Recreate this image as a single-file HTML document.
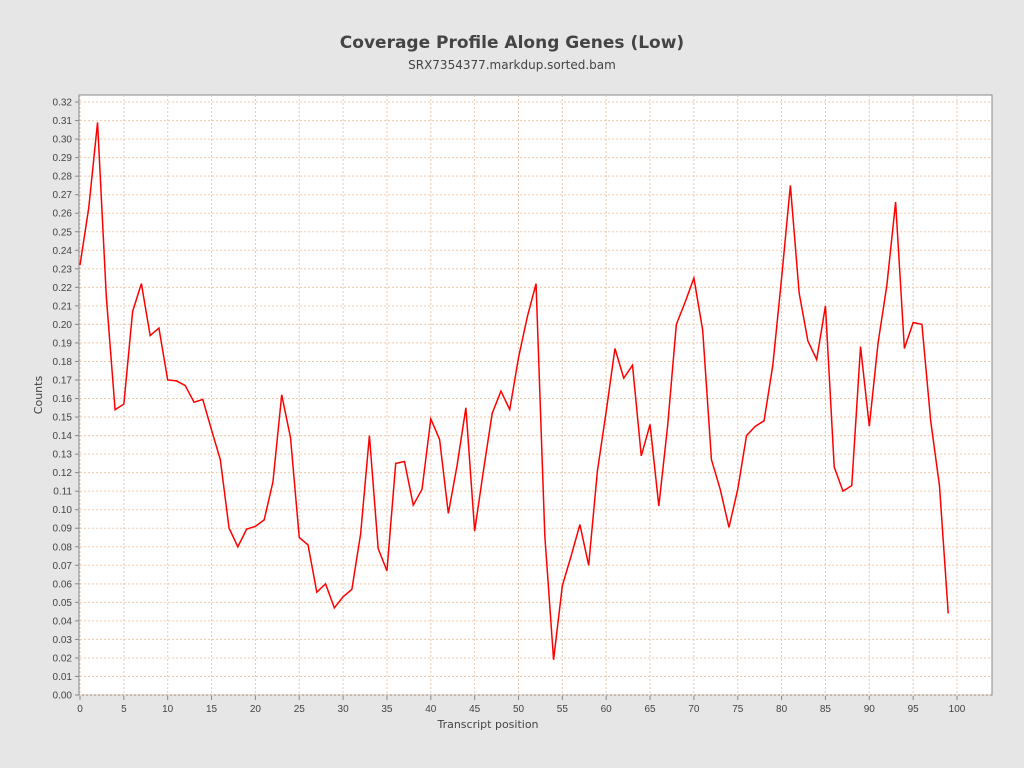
<!DOCTYPE html>
<html><head><meta charset="utf-8"><style>
body{margin:0;background:#e6e6e6;font-family:"Liberation Sans","DejaVu Sans",sans-serif}
svg{display:block}
</style></head><body>
<svg id="c" width="1024" height="768" xmlns="http://www.w3.org/2000/svg">
<rect width="1024" height="768" fill="#e6e6e6"/>
<text x="512" y="48" text-anchor="middle" font-size="17" font-weight="bold" fill="#444" font-family="DejaVu Sans, sans-serif">Coverage Profile Along Genes (Low)</text>
<text x="512" y="69" text-anchor="middle" font-size="12" fill="#444" font-family="DejaVu Sans, sans-serif">SRX7354377.markdup.sorted.bam</text>
<rect x="79" y="95" width="913" height="600" fill="#fff" stroke="#888"/>
<g id="grid"></g><g id="axes"></g>
<text x="488" y="728" text-anchor="middle" font-size="11" fill="#444" font-family="DejaVu Sans, sans-serif">Transcript position</text>
<text transform="translate(42,395) rotate(-90)" text-anchor="middle" font-size="11" fill="#444" font-family="DejaVu Sans, sans-serif">Counts</text>
</svg>
<script>
const positions=[...Array(100).keys()];
const counts=[0.232,0.263,0.309,0.215,0.154,0.157,0.207,0.222,0.194,0.198,0.170,0.1695,0.167,0.158,0.1595,0.143,0.127,0.090,0.080,0.0895,0.091,0.0945,0.115,0.162,0.139,0.085,0.081,0.0555,0.060,0.047,0.053,0.057,0.087,0.140,0.079,0.067,0.125,0.126,0.1025,0.111,0.149,0.138,0.098,0.124,0.155,0.0885,0.121,0.152,0.164,0.154,0.182,0.204,0.222,0.086,0.019,0.059,0.075,0.092,0.070,0.121,0.153,0.187,0.171,0.178,0.129,0.146,0.102,0.145,0.200,0.212,0.225,0.197,0.127,0.111,0.0905,0.111,0.140,0.145,0.148,0.178,0.225,0.275,0.217,0.191,0.181,0.210,0.123,0.110,0.113,0.188,0.145,0.190,0.221,0.266,0.187,0.201,0.200,0.148,0.113,0.044];
const xTicks=[0,5,10,15,20,25,30,35,40,45,50,55,60,65,70,75,80,85,90,95,100];
const yTicks=[...Array(33).keys()].map(i=>i/100);
const NS="http://www.w3.org/2000/svg";
const X=v=>80+v*8.77, Y=v=>695-v*1853;
const svg=document.getElementById('c'),grid=document.getElementById('grid'),axes=document.getElementById('axes');
function mk(tag,a,p){const e=document.createElementNS(NS,tag);for(const k in a)e.setAttribute(k,a[k]);p.appendChild(e);return e;}
yTicks.forEach(t=>{
 const l=mk('line',{x1:80,x2:992,y1:Y(t),y2:Y(t),stroke:'#f2c9a8','stroke-dasharray':'2,2','stroke-width':1},grid);
 
 
 mk('line',{x1:75,x2:79,y1:Y(t),y2:Y(t),stroke:'#888'},axes);
 const tx=mk('text',{x:72,y:Y(t)+3.5,'text-anchor':'end','font-size':10,fill:'#444'},axes);
 tx.textContent=t.toFixed(2);
 
 
});
xTicks.forEach(t=>{
 const l=mk('line',{x1:X(t),x2:X(t),y1:95,y2:695,stroke:'#e8c9b0','stroke-dasharray':'2,2','stroke-width':1},grid);
 
 
 mk('line',{x1:X(t),x2:X(t),y1:696,y2:700,stroke:'#888'},axes);
 const tx=mk('text',{x:X(t),y:712,'text-anchor':'middle','font-size':10,fill:'#444'},axes);
 tx.textContent=t;
 
 
});
const pl=mk('polyline',{points:positions.map((p,i)=>X(p)+','+Y(counts[i])).join(' '),fill:'none',stroke:'#ff0000','stroke-width':1.5},svg);


</script>
</body></html>
